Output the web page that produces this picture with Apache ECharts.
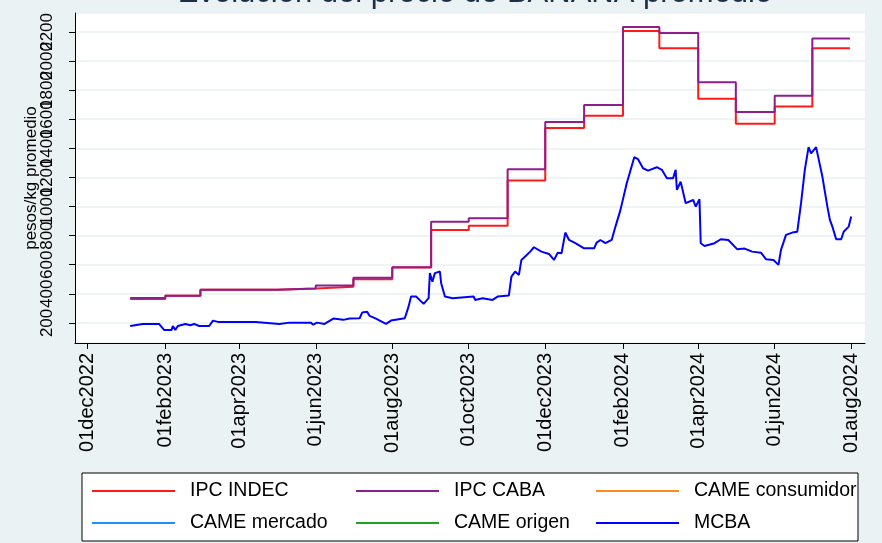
<!DOCTYPE html>
<html>
<head>
<meta charset="utf-8">
<script src="https://cdn.jsdelivr.net/npm/echarts@6/dist/echarts.min.js"></script>
<style>
  html, body { margin: 0; padding: 0; background: #EAF2F3; }
  #chart { width: 882px; height: 543px; }
</style>
</head>
<body>
<div id="chart"></div>
<script>
// x axis ticks (every two months)
const TICK_DATES = ['2022-12-01', '2023-02-01', '2023-04-01', '2023-06-01', '2023-08-01', '2023-10-01',
  '2023-12-01', '2024-02-01', '2024-04-01', '2024-06-01', '2024-08-01'];
const TICK_LABELS = ['01dec2022', '01feb2023', '01apr2023', '01jun2023', '01aug2023', '01oct2023',
  '01dec2023', '01feb2024', '01apr2024', '01jun2024', '01aug2024'];
const Y_TICKS = [200, 400, 600, 800, 1000, 1200, 1400, 1600, 1800, 2000, 2200];
const Y_MIN = 62;
const Y_MAX = 2330;

// monthly price indexes (held flat for the month)
const IPC_DATES = ['2023-01-04', '2023-02-01', '2023-03-01', '2023-04-01', '2023-05-01', '2023-06-01',
  '2023-07-01', '2023-08-01', '2023-09-01', '2023-10-01', '2023-11-01', '2023-12-01',
  '2024-01-01', '2024-02-01', '2024-03-01', '2024-04-01', '2024-05-01', '2024-06-01',
  '2024-07-01', '2024-07-31'];
const IPC_INDEC = [365, 387, 428, 428, 437, 448, 500, 581, 839, 867, 1178, 1540,
  1623, 2207, 2088, 1740, 1568, 1687, 2088, 2088];
const IPC_CABA = [372, 387, 428, 428, 437, 457, 511, 583, 896, 920, 1256, 1581,
  1698, 2234, 2193, 1854, 1650, 1762, 2154, 2154];

// Mercado Central de Buenos Aires
const MCBA_DATES = ['2023-01-04', '2023-01-14', '2023-01-27', '2023-01-31', '2023-02-06', '2023-02-07',
  '2023-02-09', '2023-02-11', '2023-02-17', '2023-02-21', '2023-02-24', '2023-02-28', '2023-03-08',
  '2023-03-11', '2023-03-15', '2023-04-14', '2023-05-03', '2023-05-11', '2023-05-28', '2023-05-30',
  '2023-06-02', '2023-06-08', '2023-06-15', '2023-06-23', '2023-06-28', '2023-07-06', '2023-07-08',
  '2023-07-12', '2023-07-14', '2023-07-19', '2023-07-27', '2023-07-31', '2023-08-11', '2023-08-14',
  '2023-08-16', '2023-08-20', '2023-08-26', '2023-08-30', '2023-08-31', '2023-09-02', '2023-09-04',
  '2023-09-08', '2023-09-09', '2023-09-12', '2023-09-18', '2023-10-05', '2023-10-06', '2023-10-12',
  '2023-10-20', '2023-10-24', '2023-11-02', '2023-11-04', '2023-11-07', '2023-11-10', '2023-11-12',
  '2023-11-15', '2023-11-19', '2023-11-22', '2023-11-28', '2023-12-04', '2023-12-08', '2023-12-11',
  '2023-12-14', '2023-12-17', '2023-12-20', '2023-12-25', '2024-01-01', '2024-01-09', '2024-01-11',
  '2024-01-14', '2024-01-18', '2024-01-23', '2024-01-26', '2024-01-30', '2024-02-04', '2024-02-10',
  '2024-02-13', '2024-02-17', '2024-02-21', '2024-02-28', '2024-03-03', '2024-03-07', '2024-03-12',
  '2024-03-14', '2024-03-15', '2024-03-18', '2024-03-22', '2024-03-28', '2024-03-30', '2024-04-02',
  '2024-04-03', '2024-04-06', '2024-04-14', '2024-04-19', '2024-04-25', '2024-05-02', '2024-05-08',
  '2024-05-14', '2024-05-21', '2024-05-25', '2024-05-31', '2024-06-04', '2024-06-06', '2024-06-10',
  '2024-06-15', '2024-06-19', '2024-06-22', '2024-06-25', '2024-06-28', '2024-06-30', '2024-07-04',
  '2024-07-09', '2024-07-13', '2024-07-15', '2024-07-17', '2024-07-20', '2024-07-24', '2024-07-26',
  '2024-07-30', '2024-08-01'];
const MCBA_VALUES = [179, 193, 193, 152, 152, 179,
  152, 179, 193, 184, 193, 179, 179,
  216, 207, 207, 193, 202, 202, 188,
  202, 193, 230, 221, 230, 232, 271,
  276, 248, 230, 193, 216, 232, 312,
  381, 381, 331, 370, 542, 484, 542,
  553, 473, 381, 370, 381, 358, 370,
  358, 381, 388, 518, 553, 530, 633,
  656, 690, 720, 690, 674, 633, 683,
  679, 821, 770, 748, 713, 713, 752,
  770, 748, 770, 862, 977, 1160, 1339,
  1325, 1263, 1247, 1270, 1252, 1195, 1195,
  1252, 1114, 1171, 1023, 1045, 999, 1050,
  748, 729, 748, 775, 770, 707, 711,
  690, 683, 638, 633, 599, 702, 805,
  821, 827, 1023, 1252, 1408, 1366, 1408,
  1206, 999, 908, 862, 775, 775, 827,
  862, 931];

const FONT = '"Liberation Sans", Arial, sans-serif';
const toTs = s => { const p = s.split('-').map(Number); return new Date(p[0], p[1] - 1, p[2]).getTime(); };
const zip = (xs, ys) => xs.map((x, i) => [toTs(x), ys[i]]);
const tickTs = TICK_DATES.map(toTs);
// padded with the axis ends so the min/max label check only drops those blanks
const yTickVals = [Y_MIN].concat(Y_TICKS, [Y_MAX]);

const chart = echarts.init(document.getElementById('chart'));

const lineSeries = (name, color, data, extra) => Object.assign({
  name: name,
  type: 'line',
  data: data,
  symbol: 'none',
  showSymbol: false,
  lineStyle: { color: color, width: 2 },
  itemStyle: { color: color }
}, extra || {});

const legendCol = (names, left) => ({
  data: names,
  orient: 'vertical',
  left: left,
  top: 481,
  padding: 0,
  icon: 'rect',
  itemWidth: 83,
  itemHeight: 2,
  itemGap: 12,
  selectedMode: false,
  textStyle: { fontFamily: FONT, fontSize: 19.5, color: '#000', padding: [0, 0, 0, 10] }
});

const option = {
  backgroundColor: '#EAF2F3',
  animation: false,
  title: {
    text: 'Evolución del precio de BANANA promedio',
    left: 470,
    top: -27,
    textAlign: 'center',
    textStyle: { fontFamily: FONT, fontSize: 31, fontWeight: 'normal', color: '#1c2e4a' }
  },
  grid: { left: 75, right: 17, top: 13, bottom: 200, show: true, backgroundColor: '#fff', borderWidth: 0 },
  xAxis: {
    type: 'value',
    min: toTs('2022-11-21'),
    max: toTs('2024-08-12'),
    axisLine: { show: true, lineStyle: { color: '#000', width: 1 } },
    axisTick: { show: true, length: 6, lineStyle: { color: '#000' }, customValues: tickTs },
    axisLabel: {
      rotate: 90,
      margin: 10,
      customValues: tickTs,
      hideOverlap: false,
      formatter: v => TICK_LABELS[tickTs.indexOf(v)] || '',
      fontFamily: FONT,
      fontSize: 20,
      color: '#000'
    },
    splitLine: { show: false }
  },
  yAxis: {
    type: 'value',
    min: Y_MIN,
    max: Y_MAX,
    name: 'pesos/kg promedio',
    nameLocation: 'middle',
    nameGap: 35,
    nameMoveOverlap: false,
    nameTextStyle: { fontFamily: FONT, fontSize: 17, color: '#000' },
    axisLine: { show: true, lineStyle: { color: '#000', width: 1 } },
    axisTick: { show: true, length: 6, lineStyle: { color: '#000' }, customValues: yTickVals },
    axisLabel: {
      rotate: 90,
      margin: 19,
      customValues: yTickVals,
      hideOverlap: false,
      showMinLabel: false,
      showMaxLabel: false,
      formatter: v => (Y_TICKS.indexOf(v) >= 0 ? String(v) : ' '),
      fontFamily: FONT,
      fontSize: 17,
      color: '#000'
    },
    splitLine: { show: true, lineStyle: { color: '#EAF2F3', width: 1.5 } }
  },
  legend: [
    legendCol(['IPC INDEC', 'CAME mercado'], 92),
    legendCol(['IPC CABA', 'CAME origen'], 356),
    legendCol(['CAME consumidor', 'MCBA'], 596)
  ],
  graphic: [{
    type: 'rect',
    z: 0,
    shape: { x: 82, y: 473, width: 776, height: 68 },
    style: { fill: '#fff', stroke: '#000', lineWidth: 1 }
  }],
  series: [
    lineSeries('IPC INDEC', '#FF1A1A', zip(IPC_DATES, IPC_INDEC), { step: 'end', z: 2 }),
    lineSeries('IPC CABA', '#8E1E8E', zip(IPC_DATES, IPC_CABA), { step: 'end', z: 3 }),
    lineSeries('CAME consumidor', '#FF8C1A', []),
    lineSeries('CAME mercado', '#1E8FFF', []),
    lineSeries('CAME origen', '#22A022', []),
    lineSeries('MCBA', '#0000FF', zip(MCBA_DATES, MCBA_VALUES), { z: 4 })
  ]
};

chart.setOption(option);
window.addEventListener('resize', () => chart.resize());
</script>
</body>
</html>
